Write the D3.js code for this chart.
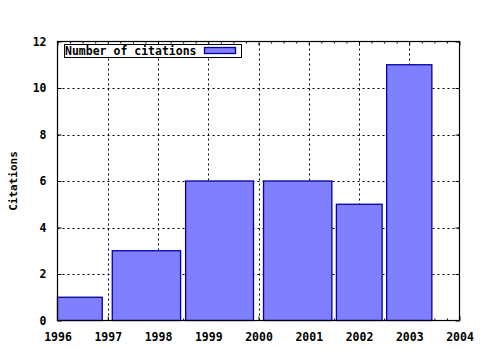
<!DOCTYPE html>
<html>
<head>
<meta charset="utf-8">
<script src="https://cdn.jsdelivr.net/npm/d3@7"></script>
<style>
  body { margin: 0; background: #fff; }
  text { font-family: "DejaVu Sans Mono", monospace; font-weight: bold; font-size: 11.5px; fill: #000; }
</style>
</head>
<body>
<div id="chart"></div>
<script>
// data (bars span from start year to end year)
const barStart = [1996.0, 1997.09, 1998.55, 2000.1, 2001.55, 2002.55];
const barEnd   = [1996.89, 1998.45, 1999.9, 2001.46, 2002.46, 2003.45];
const citations = [1, 3, 6, 6, 5, 11];
const yearTicks = [1996, 1997, 1998, 1999, 2000, 2001, 2002, 2003, 2004];
const citeTicks = [0, 2, 4, 6, 8, 10, 12];
const seriesName = 'Number of citations';

const W = 480, H = 350;
const margin = { top: 41.5, right: 20.5, bottom: 29.5, left: 57.5 };

const svg = d3.select('#chart').append('svg')
  .attr('width', W).attr('height', H);
svg.append('rect').attr('width', W).attr('height', H).attr('fill', '#fff');

const x = d3.scaleLinear().domain([1996, 2004]).range([margin.left, W - margin.right]);
const y = d3.scaleLinear().domain([0, 12]).range([H - margin.bottom, margin.top]);

// dotted grid at the major ticks
const grid = svg.append('g').attr('stroke', '#000').attr('stroke-dasharray', '2,3').attr('stroke-width', 1);
grid.selectAll('.gx').data(yearTicks.slice(1, -1)).enter().append('line')
  .attr('x1', d => Math.round(x(d)) + 0.5).attr('x2', d => Math.round(x(d)) + 0.5)
  .attr('y1', y(0)).attr('y2', y(12));
grid.selectAll('.gy').data(citeTicks.slice(1, -1)).enter().append('line')
  .attr('x1', x(1996)).attr('x2', x(2004))
  .attr('y1', d => Math.round(y(d)) + 0.5).attr('y2', d => Math.round(y(d)) + 0.5);

// minor ticks every quarter year (top and bottom)
const minor = d3.range(1996, 2004.01, 0.25).filter(d => d % 1 !== 0);

function styleAxis(g) {
  g.select('.domain').remove();
  g.selectAll('line').attr('stroke', '#000');
  g.selectAll('text').attr('fill', '#000').style('font-size', '11.5px');
}

svg.append('g').attr('transform', `translate(0,${y(0)})`)
  .call(d3.axisBottom(x).tickValues(yearTicks).tickFormat(d3.format('d')).tickSize(-4).tickPadding(12))
  .call(styleAxis);
svg.append('g').attr('transform', `translate(0,${y(0)})`)
  .call(d3.axisBottom(x).tickValues(minor).tickFormat('').tickSize(-2))
  .call(styleAxis);
svg.append('g').attr('transform', `translate(0,${y(12)})`)
  .call(d3.axisTop(x).tickValues(yearTicks).tickFormat('').tickSize(-4))
  .call(styleAxis);
svg.append('g').attr('transform', `translate(0,${y(12)})`)
  .call(d3.axisTop(x).tickValues(minor).tickFormat('').tickSize(-2))
  .call(styleAxis);
svg.append('g').attr('transform', `translate(${x(1996)},0)`)
  .call(d3.axisLeft(y).tickValues(citeTicks).tickSize(-4).tickPadding(11))
  .call(styleAxis);
svg.append('g').attr('transform', `translate(${x(2004)},0)`)
  .call(d3.axisRight(y).tickValues(citeTicks).tickFormat('').tickSize(-4))
  .call(styleAxis);

// bars
svg.append('g').selectAll('rect').data(citations).enter().append('rect')
  .attr('x', (d, i) => x(barStart[i]))
  .attr('y', d => y(d))
  .attr('width', (d, i) => x(barEnd[i]) - x(barStart[i]))
  .attr('height', d => y(0) - y(d))
  .attr('fill', '#8080ff')
  .attr('stroke', '#0000a0')
  .attr('stroke-width', 1.3);

// border
svg.append('rect')
  .attr('x', x(1996)).attr('y', y(12))
  .attr('width', x(2004) - x(1996)).attr('height', y(0) - y(12))
  .attr('fill', 'none').attr('stroke', '#000').attr('stroke-width', 1.2);

// y title
svg.append('text')
  .attr('transform', `translate(17,${(y(0) + y(12)) / 2}) rotate(-90)`)
  .attr('text-anchor', 'middle')
  .style('font-size', '11px')
  .text('Citations');

// legend
const lg = svg.append('g');
lg.append('rect').attr('x', 64.5).attr('y', 44.5).attr('width', 177).attr('height', 13)
  .attr('fill', '#fff').attr('stroke', '#000').attr('stroke-width', 1);
lg.append('text').attr('x', 65).attr('y', 55).text(seriesName);
lg.append('rect').attr('x', 204.5).attr('y', 47.5).attr('width', 31).attr('height', 6)
  .attr('fill', '#8080ff').attr('stroke', '#0000a0').attr('stroke-width', 1.3);
</script>
</body>
</html>
